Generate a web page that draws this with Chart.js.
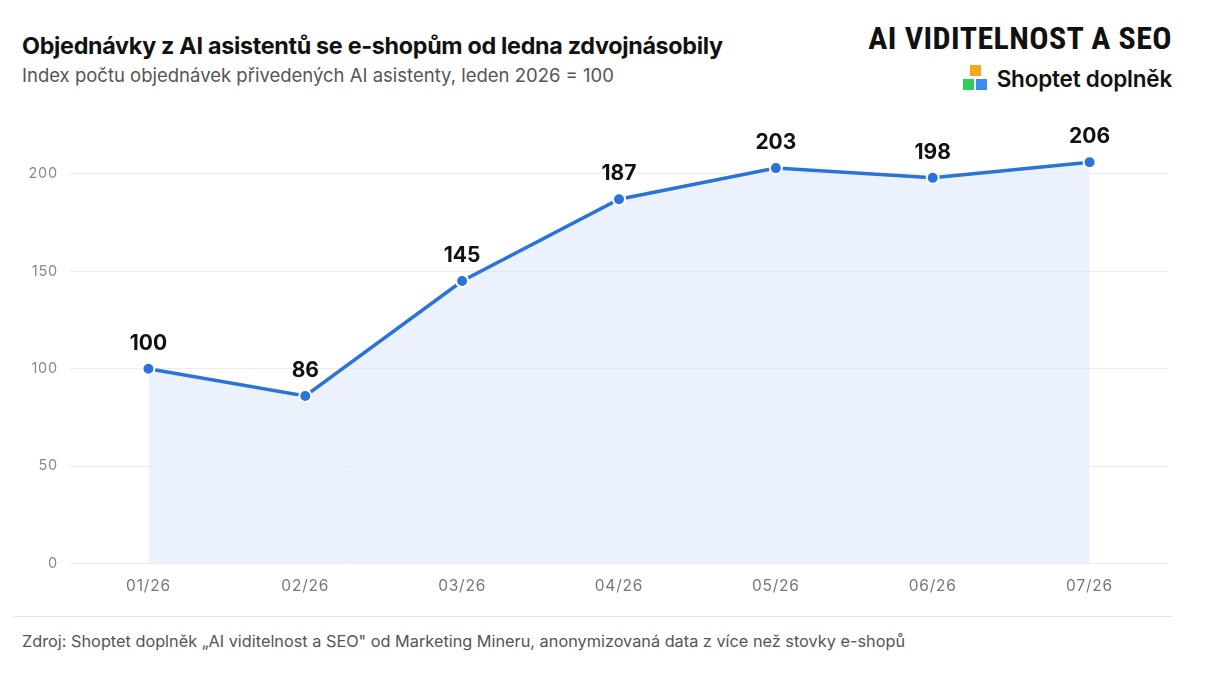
<!DOCTYPE html>
<html>
<head>
<meta charset="utf-8">
<script src="https://cdn.jsdelivr.net/npm/chart.js@4"></script>
<style>
  html,body{margin:0;padding:0;background:#fff;}
  body{width:1217px;height:676px;position:relative;overflow:hidden;font-family:Inter,"Noto Sans",sans-serif;}
  #title{position:absolute;left:22px;top:31px;font-size:23.3px;font-weight:700;color:#111;letter-spacing:-0.3px;white-space:nowrap;}
  #subtitle{position:absolute;left:22px;top:64px;font-size:18.5px;color:#555;white-space:nowrap;}
  #brand{position:absolute;right:45px;top:19px;font-family:"Liberation Sans Narrow","Roboto Condensed",Roboto,sans-serif;font-weight:700;font-size:32px;color:#111;white-space:nowrap;letter-spacing:0.4px;}
  #logo{position:absolute;right:45px;top:64px;height:28px;display:flex;align-items:center;}
  #logo .sq{position:relative;width:26px;height:28px;margin-right:8px;}
  #logo .sq span{position:absolute;width:11px;height:11px;}
  #logo .txt{font-size:22.5px;font-weight:600;color:#111;white-space:nowrap;letter-spacing:-0.2px;}
  #wrap{position:absolute;left:0;top:100px;width:1217px;height:526px;}
  #sep{position:absolute;left:14px;top:616px;width:1158px;height:1px;background:#e3e3e3;}
  #footer{position:absolute;left:22px;top:631px;font-size:16.3px;color:#555;white-space:nowrap;}
</style>
</head>
<body>
<div id="title">Objednávky z AI asistentů se e-shopům od ledna zdvojnásobily</div>
<div id="subtitle">Index počtu objednávek přivedených AI asistenty, leden 2026 = 100</div>
<div id="brand">AI VIDITELNOST A SEO</div>
<div id="logo">
  <div class="sq">
    <span style="left:7px;top:1px;background:#f5a81c;"></span>
    <span style="left:0;top:15px;background:#2ccf5a;"></span>
    <span style="left:13px;top:15px;background:#3b8cf0;"></span>
  </div>
  <div class="txt">Shoptet doplněk</div>
</div>
<div id="sep"></div>
<div id="footer">Zdroj: Shoptet doplněk „AI viditelnost a SEO" od Marketing Mineru, anonymizovaná data z více než stovky e-shopů</div>
<div id="wrap"><canvas id="c"></canvas></div>
<script>
const categories = ["01/26","02/26","03/26","04/26","05/26","06/26","07/26"];
const indexValues = [100, 86, 145, 187, 203, 198, 206];
const yTicks = [0, 50, 100, 150, 200];

const lineColor = "#2b73d6";

const spacing = {
  id: "spacing",
  beforeDraw(chart) { chart.ctx.letterSpacing = "0.8px"; },
  beforeDatasetsDraw(chart) { chart.ctx.letterSpacing = "0px"; }
};

const valueLabels = {
  id: "valueLabels",
  afterDatasetsDraw(chart) {
    const ctx = chart.ctx;
    const meta = chart.getDatasetMeta(0);
    ctx.save();
    ctx.letterSpacing = "0px";
    ctx.font = "700 21px Inter, 'Noto Sans', sans-serif";
    ctx.fillStyle = "#111";
    ctx.textAlign = "center";
    ctx.textBaseline = "alphabetic";
    meta.data.forEach((pt, i) => {
      ctx.fillText(String(chart.data.datasets[0].data[i]), pt.x, pt.y - 19);
    });
    ctx.restore();
  }
};

new Chart(document.getElementById("c"), {
  type: "line",
  data: {
    labels: categories,
    datasets: [{
      data: indexValues,
      borderColor: lineColor,
      borderWidth: 3.5,
      backgroundColor: "rgba(222,234,250,0.6)",
      fill: "origin",
      tension: 0,
      pointRadius: 6,
      pointHoverRadius: 6,
      pointBackgroundColor: lineColor,
      pointBorderColor: "#fff",
      pointBorderWidth: 2
    }]
  },
  options: {
    responsive: true,
    maintainAspectRatio: false,
    animation: false,
    layout: { padding: { top: 35, right: 49, bottom: 16, left: 0 } },
    plugins: { legend: { display: false }, tooltip: { enabled: false } },
    scales: {
      x: {
        offset: true,
        grid: { display: false, drawTicks: false },
        border: { display: false },
        ticks: { color: "#777", font: { size: 15.5, family: "Inter, 'Noto Sans', sans-serif" }, padding: 14 }
      },
      y: {
        min: 0,
        max: 220,
        afterBuildTicks(scale) { scale.ticks = yTicks.map(v => ({ value: v })); },
        afterFit(scale) { scale.width = 70; },
        grid: { color: "#ececec", lineWidth: 1, drawTicks: false },
        border: { display: false },
        ticks: { color: "#888", font: { size: 14.5, family: "Inter, 'Noto Sans', sans-serif" }, padding: 12 }
      }
    }
  },
  plugins: [spacing, valueLabels]
});
</script>
</body>
</html>
